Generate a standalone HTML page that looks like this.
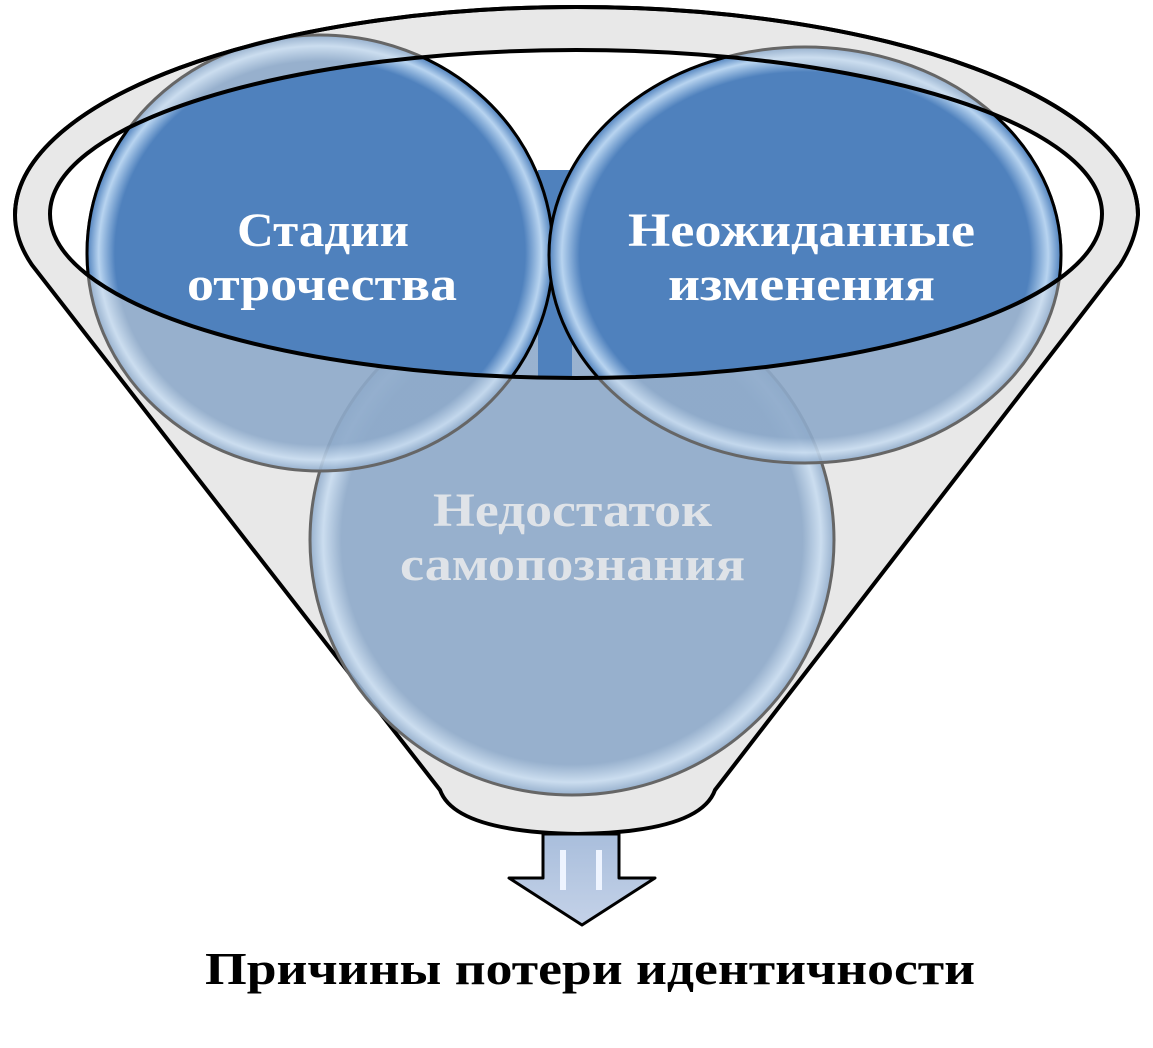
<!DOCTYPE html>
<html><head><meta charset="utf-8"><style>
html,body{margin:0;padding:0;background:#fff;width:1153px;height:1048px;overflow:hidden}
text{font-family:"Liberation Serif",serif;font-weight:bold}
</style></head><body>
<svg width="1153" height="1048" viewBox="0 0 1153 1048" xmlns="http://www.w3.org/2000/svg">
<defs>
<clipPath id="inner"><ellipse cx="576" cy="214" rx="526" ry="164"/></clipPath>
<radialGradient id="gl" cx="50%" cy="50%" r="50%">
<stop offset="0.88" stop-color="#8eaaca" stop-opacity="0.9"/>
<stop offset="0.95" stop-color="#c8dcf0" stop-opacity="0.9"/>
<stop offset="1" stop-color="#8eaaca" stop-opacity="0.9"/>
</radialGradient>
<radialGradient id="gd" cx="50%" cy="50%" r="50%">
<stop offset="0.88" stop-color="#4f81bd"/>
<stop offset="0.95" stop-color="#b8d4f0"/>
<stop offset="1" stop-color="#4f81bd"/>
</radialGradient>
<linearGradient id="ar" x1="0" y1="0" x2="0" y2="1">
<stop offset="0" stop-color="#a9bedc"/><stop offset="1" stop-color="#c4d2e8"/>
</linearGradient>
</defs>
<path d="M15 215 A561 208 0 0 1 1138 215 Q1136 240 1120 265 L715 790 Q700 832 578 834 Q455 832 440 790 L32 265 Q15 240 15 215 Z" fill="#e8e8e8" stroke="#000" stroke-width="4"/>
<ellipse cx="576" cy="214" rx="526" ry="164" fill="#fff"/>
<path d="M543 834 L619 834 L619 878 L655 878 L582 925 L509 878 L543 878 Z" fill="url(#ar)" stroke="#000" stroke-width="3" stroke-linejoin="round"/>
<rect x="560" y="850" width="6" height="40" fill="#eef4ff"/>
<rect x="596" y="850" width="6" height="40" fill="#eef4ff"/>
<ellipse cx="572" cy="540" rx="262" ry="255" fill="url(#gl)" stroke="#666" stroke-width="3"/>
<rect x="538" y="170" width="34" height="210" fill="#4f81bd" clip-path="url(#inner)"/>
<ellipse cx="320" cy="253" rx="233" ry="218" fill="url(#gl)" stroke="#666" stroke-width="3"/>
<ellipse cx="805" cy="255" rx="256" ry="208" fill="url(#gl)" stroke="#666" stroke-width="3"/>
<g clip-path="url(#inner)">
<ellipse cx="320" cy="253" rx="233" ry="218" fill="url(#gd)" stroke="#000" stroke-width="3"/>
<ellipse cx="805" cy="255" rx="256" ry="208" fill="url(#gd)" stroke="#000" stroke-width="3"/>
</g>
<ellipse cx="576" cy="214" rx="526" ry="164" fill="none" stroke="#000" stroke-width="4"/>
<path d="M15 215 A561 208 0 0 1 1138 215" fill="none" stroke="#000" stroke-width="4"/>
<g font-size="48" fill="#fff" lengthAdjust="spacingAndGlyphs">
<text x="237" y="246" textLength="172" lengthAdjust="spacingAndGlyphs">Стадии</text>
<text x="187" y="300" textLength="270" lengthAdjust="spacingAndGlyphs">отрочества</text>
<text x="628" y="246" textLength="347" lengthAdjust="spacingAndGlyphs">Неожиданные</text>
<text x="668" y="300" textLength="267" lengthAdjust="spacingAndGlyphs">изменения</text>
</g>
<g font-size="48" fill="#dfe3e8">
<text x="433" y="526" textLength="279" lengthAdjust="spacingAndGlyphs">Недостаток</text>
<text x="400" y="580" textLength="345" lengthAdjust="spacingAndGlyphs">самопознания</text>
</g>
<text x="205" y="984" font-size="46" fill="#000" textLength="770" lengthAdjust="spacingAndGlyphs">Причины потери идентичности</text>
</svg>
</body></html>
